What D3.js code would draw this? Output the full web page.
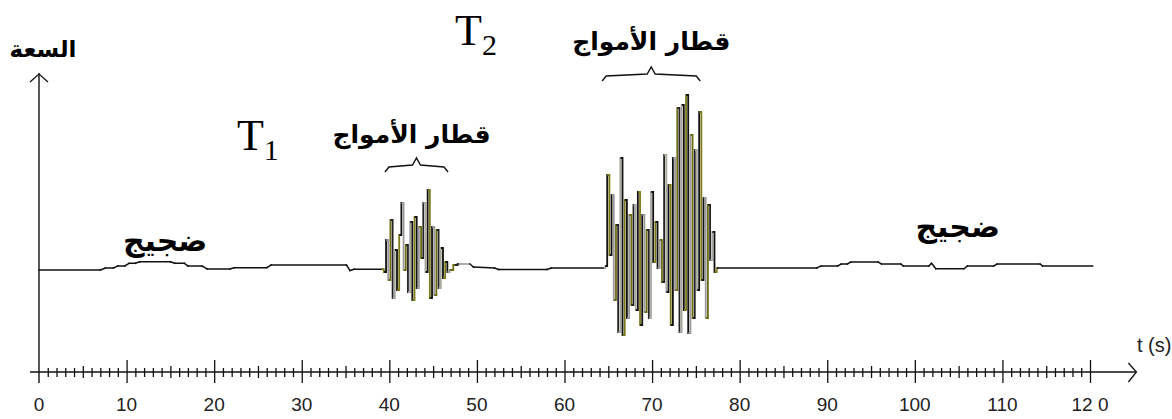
<!DOCTYPE html>
<html>
<head>
<meta charset="utf-8">
<script src="https://cdn.jsdelivr.net/npm/d3@7"></script>
<style>
  html, body { margin: 0; padding: 0; background: #fff; }
  svg { display: block; }
</style>
</head>
<body>
<svg id="chart" width="1172" height="419"></svg>
<script>
// Seismogram: amplitude versus time, with two wave trains arriving at T1 and T2.

// time of each recorded sample (s)
const sampleTimes = [
  0, 7.0, 7.6, 8.5, 9.0, 9.8, 10.3, 11.0, 11.5, 15.0, 15.5, 16.6, 17.0, 18.6, 19.2, 21.8,
  22.3, 26.0, 26.5, 35.1, 35.5, 36.0, 39.25,
  39.5, 39.75, 40.0, 40.25, 40.5, 40.75, 41.0, 41.25, 41.5, 41.75, 42.0, 42.25, 42.5, 42.75,
  43.0, 43.25, 43.5, 43.75, 44.0, 44.25, 44.5, 44.75, 45.0, 45.25, 45.5, 45.75, 46.0, 46.25,
  46.5, 46.75,
  47.0, 47.6, 48.0, 49.2, 49.6, 52.0, 52.5, 58.0, 58.5, 64.6,
  64.75, 65.0, 65.25, 65.5, 65.75, 66.0, 66.25, 66.5, 66.75, 67.0, 67.25, 67.5, 67.75, 68.0,
  68.25, 68.5, 68.75, 69.0, 69.25, 69.5, 69.75, 70.0, 70.25, 70.5, 70.75, 71.0, 71.25, 71.5,
  71.75, 72.0, 72.25, 72.5, 72.75, 73.0, 73.25, 73.5, 73.75, 74.0, 74.25, 74.5, 74.75, 75.0,
  75.25, 75.5, 75.75, 76.0, 76.25, 76.5, 76.75, 77.0, 77.25, 77.5,
  88.8, 89.3, 91.2, 91.6, 92.3, 92.7, 95.8, 96.2, 98.4, 98.7, 101.6, 101.9, 102.4, 105.6,
  106.0, 109.0, 109.4, 114.3, 114.6, 120.3
];

// recorded amplitude at each sample (arbitrary units)
const sampleValues = [
  -0.08, -0.08, 0, 0, 0.08, 0.08, 0.19, 0.19, 0.25, 0.25, 0.19, 0.19, 0.08, 0.08, -0.04, -0.04,
  0.01, 0.01, 0.12, 0.12, -0.1, -0.05, -0.05,
  -0.16, 1.12, -0.48, 1.92, -1.2, 0.72, -0.88, 1.32, 2.6, -0.08, 0.92, -0.96, 1.84, -1.28,
  2.04, -0.8, 1.64, 0.4, 2.6, -0.16, 3.12, -1.2, 1.64, -1.08, 1.52, -0.8, 0.8, -0.4,
  0.24, -0.16,
  -0.08, 0.12, 0.16, 0.16, 0.04, 0, -0.06, -0.06, 0, 0,
  0.08, 3.72, 0.52, 2.92, -1.28, 1.72, -2.56, 4.4, -2.68, 2.72, -2.0, 2.12, -1.48, 2.52,
  -1.68, 3.04, -2.28, 2.12, -1.76, 1.52, -2.0, 3.04, 0.24, 1.84, 0, 1.12, -0.56, 4.52,
  -0.96, 3.32, -2.28, 4.4, -0.88, 6.4, -2.56, 6.52, -1.68, 6.92, -2.6, 5.32, -2.0, 4.72,
  -0.88, 6.24, -0.48, 2.8, -2.0, 2.52, 0.32, 1.44, -0.16, 0,
  0, 0.08, 0.08, 0.16, 0.16, 0.24, 0.24, 0.16, 0.16, 0.08, 0.08, 0.19, -0.03, -0.03,
  0.08, 0.08, 0.16, 0.16, 0.08, 0.08
];

// time spans of the two wave trains [start, end] (s)
const trainStarts = [39.5, 64.3];
const trainEnds = [46.7, 75.5];
const trainArrivals = ["1", "2"];
const trainTitle = "قطار الأمواج";
const noiseTitle = "ضجيج";
const noiseTimes = [14.4, 104.9];

// axis tick labels
const tickValues = [0, 10, 20, 30, 40, 50, 60, 70, 80, 90, 100, 110, 120];
const tickLabels = ["0", "10", "20", "30", "40", "50", "60", "70", "80", "90", "100", "110", "12 0"];
const yTitle = "السعة";
const xTitle = "t (s)";

const svg = d3.select("#chart");

const x = d3.scaleLinear().domain([0, 120]).range([39, 1090]);
const y = d3.scaleLinear().domain([-4.2, 7.8]).range([373, 73]);
const axisY = y(-4.2) - 1; // 372

// ---- axes ----
const axes = svg.append("g").attr("stroke", "#111").attr("fill", "none");
axes.append("line")
  .attr("x1", x(0) - 9).attr("x2", x(125.3))
  .attr("y1", axisY).attr("y2", axisY).attr("stroke-width", 1.4);
axes.append("polyline")
  .attr("points", `${x(125.3) - 8},${axisY - 9} ${x(125.3)},${axisY} ${x(125.3) - 8},${axisY + 10}`)
  .attr("stroke-width", 1.3);
axes.append("line")
  .attr("x1", x(0)).attr("x2", x(0))
  .attr("y1", axisY + 11).attr("y2", y(7.8)).attr("stroke-width", 1.4);
axes.append("polyline")
  .attr("points", `${x(0) - 9},${y(7.8) + 9} ${x(0)},${y(7.8) + 1} ${x(0) + 9},${y(7.8) + 9}`)
  .attr("stroke-width", 1.3);

// second ticks, longer every 5 s and 10 s
const tickG = svg.append("g");
const xAxis = d3.axisBottom(x)
  .tickValues(d3.range(1, 121))
  .tickSize(0)
  .tickFormat("");
tickG.attr("transform", `translate(0,${axisY})`).call(xAxis);
tickG.select(".domain").remove();
tickG.selectAll(".tick line")
  .attr("stroke", "#111")
  .attr("stroke-width", 1.3)
  .attr("y1", d => d % 10 === 0 ? -12 : d % 5 === 0 ? -6 : -4)
  .attr("y2", d => d % 10 === 0 ? 11 : d % 5 === 0 ? 6 : 5);

// tick labels
svg.append("g")
  .selectAll("text")
  .data(tickValues)
  .join("text")
  .attr("x", d => x(d))
  .attr("y", 411)
  .attr("text-anchor", "middle")
  .attr("font-family", "Liberation Sans, Arial, sans-serif")
  .attr("font-size", 19)
  .attr("fill", "#222")
  .text((d, i) => tickLabels[i]);

svg.append("text")
  .attr("x", 1137).attr("y", 352)
  .attr("font-family", "Liberation Sans, Arial, sans-serif")
  .attr("font-size", 20)
  .attr("fill", "#222")
  .text(xTitle);

svg.append("text")
  .attr("x", 43).attr("y", 57)
  .attr("text-anchor", "middle")
  .attr("direction", "rtl")
  .attr("font-family", "DejaVu Sans, sans-serif")
  .attr("font-weight", "bold")
  .attr("font-size", 23)
  .attr("fill", "#000")
  .text(yTitle);

// ---- signal ----
// quiet background noise is traced with straight joins, the wave trains with
// vertical strokes between samples
const pts = sampleTimes.map((t, i) => [t, sampleValues[i]]);
const noiseLine = d3.line().x(d => x(d[0])).y(d => y(d[1]));
const trainLine = d3.line().x(d => x(d[0])).y(d => y(d[1])).curve(d3.curveStep);

const ink = ["#111", "#7d7a1c", "#111", "#9a9a9a", "#6f6c18", "#222", "#a8a8a0"];
const segs = d3.range(pts.length - 1).map(i => {
  const t = pts[i][0];
  const inTrain = trainStarts.some((s, k) => t >= s - 0.3 && t < trainEnds[k] + 1.8);
  return { a: pts[i], b: pts[i + 1], i, inTrain };
});

svg.append("g")
  .selectAll("path")
  .data(segs)
  .join("path")
  .attr("d", d => (d.inTrain ? trainLine : noiseLine)([d.a, d.b]))
  .attr("fill", "none")
  .attr("stroke", d => d.inTrain ? ink[d.i % ink.length] : "#111")
  .attr("stroke-width", d => d.inTrain ? 1.8 : 1.5)
  .attr("stroke-linecap", "square");

// ---- annotations ----
const bracketY = [172, 81];
const titleY = [143, 50];
const titleShift = [-5, 0];
trainStarts.forEach((s, k) => {
  const x0 = x(s), x1 = x(trainEnds[k]), xm = (x0 + x1) / 2;
  const by = bracketY[k];
  svg.append("polyline")
    .attr("points", [
      [x0, by], [x0 + 4, by - 5], [xm - 4, by - 7], [xm, by - 14],
      [xm + 4, by - 7], [x1 - 4, by - 5], [x1, by]
    ].map(p => p.join(",")).join(" "))
    .attr("fill", "none")
    .attr("stroke", "#111")
    .attr("stroke-width", 1.4);
  svg.append("text")
    .attr("x", xm + titleShift[k]).attr("y", titleY[k])
    .attr("text-anchor", "middle")
    .attr("direction", "rtl")
    .attr("font-family", "DejaVu Sans, sans-serif")
    .attr("font-weight", "bold")
    .attr("font-size", 25)
    .attr("fill", "#000")
    .text(trainTitle);
});

// arrival labels T1, T2
const arrivalX = [x(22.6), x(47.5)];
const arrivalY = [150, 45];
trainArrivals.forEach((n, k) => {
  const t = svg.append("text")
    .attr("x", arrivalX[k]).attr("y", arrivalY[k])
    .attr("font-family", "Liberation Serif, Times New Roman, serif")
    .attr("font-size", 44)
    .attr("fill", "#000");
  t.append("tspan").text("T");
  t.append("tspan").attr("font-size", 30).attr("dy", 10).text(n);
});

// noise labels
const noiseY = [251, 237];
noiseTimes.forEach((tt, k) => {
  svg.append("text")
    .attr("x", x(tt)).attr("y", noiseY[k])
    .attr("text-anchor", "middle")
    .attr("direction", "rtl")
    .attr("font-family", "DejaVu Sans, sans-serif")
    .attr("font-weight", "bold")
    .attr("font-size", 30)
    .attr("fill", "#000")
    .text(noiseTitle);
});
</script>
</body>
</html>
